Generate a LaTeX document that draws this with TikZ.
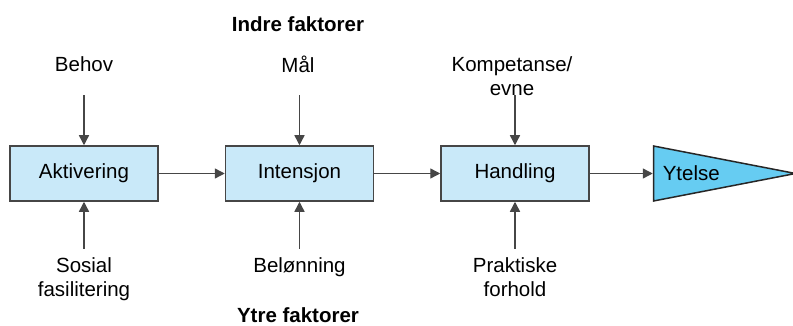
\documentclass[tikz,border=0pt]{standalone}
\usepackage{fontspec}
\setmainfont{Liberation Sans}
\usetikzlibrary{positioning,shapes.geometric,arrows.meta}
\definecolor{lblue}{RGB}{201,233,249}
\definecolor{mblue}{RGB}{102,204,242}
\definecolor{dgray}{RGB}{70,70,70}

\begin{document}
\begin{tikzpicture}[x=0.5pt, y=-0.5pt,
    font=\fontsize{10.25}{12}\selectfont,
    boks/.style={rectangle, draw=dgray, fill=lblue, line width=0.75pt, minimum width=74pt, minimum height=27.5pt},
    trekant/.style={isosceles triangle, isosceles triangle stretches, draw=black!85, fill=mblue, line width=0.75pt, minimum width=27.5pt, minimum height=71pt, inner sep=0pt},
    faktor/.style={align=center, inner sep=0pt},
    overskrift/.style={font=\fontsize{10.25}{12}\selectfont\bfseries, inner sep=0pt},
    pil/.style={-{Triangle[length=5pt, width=5pt]}, draw=dgray, line width=0.7pt},
    ]
\useasboundingbox (0,0) rectangle (793,326);

\node[boks] (aktivering) at (84,173.5) {Aktivering};
\node[boks, right=33pt of aktivering] (intensjon) {Intensjon};
\node[boks, right=33pt of intensjon] (handling) {Handling};
\node[trekant, right=31.5pt of handling, label={[anchor=west, xshift=1.5pt]west:Ytelse}] (ytelse) {};

\coordinate[above=25pt of aktivering] (innAkt);
\coordinate[above=25pt of intensjon] (innInt);
\coordinate[above=25pt of handling] (innHan);
\coordinate[below=23.5pt of aktivering] (utAkt);
\coordinate[below=23.5pt of intensjon] (utInt);
\coordinate[below=23.5pt of handling] (utHan);

\node[faktor, anchor=north] (behov) at (84,56) {Behov};
\node[faktor, anchor=north] (maal) at (298,56) {Mål};
\node[faktor, anchor=north] (kompetanse) at (512,56) {Kompetanse/\\evne};
\node[faktor, below=4pt of utAkt] (sosial) {Sosial\\fasilitering};
\node[faktor, below=4pt of utInt] (belonning) {Belønning};
\node[faktor, below=4pt of utHan] (praktiske) {Praktiske\\forhold};

\node[overskrift] (indre) at (298,24) {Indre faktorer};
\node[overskrift] (ytre) at (298,315) {Ytre faktorer};

\draw[pil] (aktivering) -- (intensjon);
\draw[pil] (intensjon) -- (handling);
\draw[pil] (handling) -- (ytelse);

\draw[pil] (innAkt) -- (aktivering);
\draw[pil] (innInt) -- (intensjon);
\draw[pil] (innHan) -- (handling);
\draw[pil] (utAkt) -- (aktivering);
\draw[pil] (utInt) -- (intensjon);
\draw[pil] (utHan) -- (handling);

\end{tikzpicture}
\end{document}
